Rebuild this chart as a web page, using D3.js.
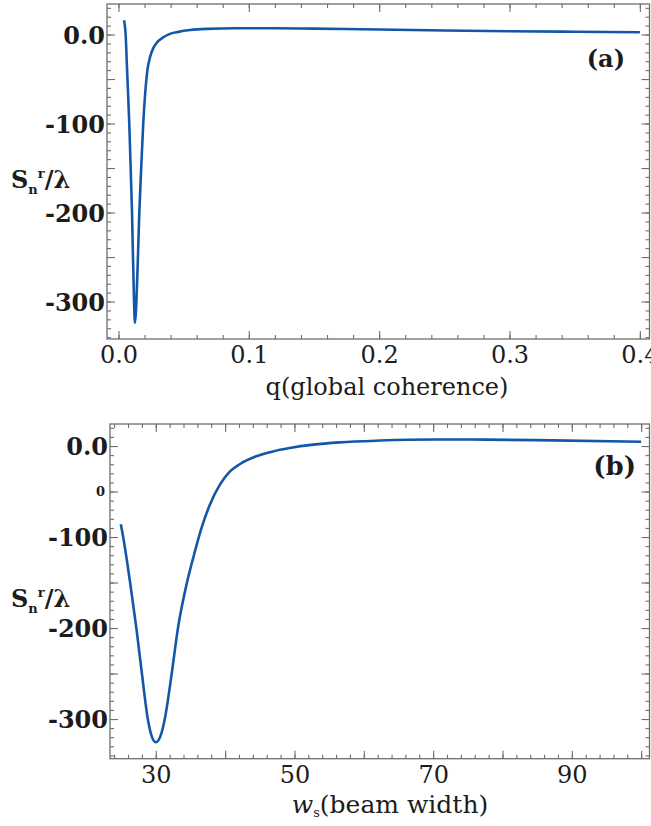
<!DOCTYPE html>
<html>
<head>
<meta charset="utf-8">
<script src="https://cdn.jsdelivr.net/npm/d3@7"></script>
<style>
  body { margin: 0; background: #fff; }
</style>
</head>
<body>
<svg id="chart" width="651" height="826"></svg>
<script>
// panel (a): S_n^r / lambda against the global coherence q
const qValues = [0.0042, 0.0055, 0.0065, 0.0083, 0.0104, 0.0119, 0.01265, 0.0147, 0.016, 0.0175,
  0.019, 0.0205, 0.0222, 0.0245, 0.0268, 0.0295, 0.034, 0.039, 0.046, 0.055, 0.068, 0.09, 0.12,
  0.15, 0.2, 0.25, 0.3, 0.35, 0.4];
const snByQ = [16, 0, -36, -100, -200, -298, -324, -261, -200, -148,
  -100, -66, -40, -24, -15, -9, -3.5, 0.5, 3, 5, 6.3, 7, 7,
  6.6, 5.6, 4.6, 3.7, 3.1, 2.5];

// panel (b): S_n^r / lambda against the beam width w_s
const wValues = [24.96, 25.3, 26.3, 27.2, 28.0, 28.85, 29.3, 30, 30.8, 31.3, 32.3, 33.2, 34.5,
  35.5, 36.6, 37.8, 39.25, 40.7, 42.1, 44.5, 46.9, 49.3, 52.7, 56.5, 62.3, 70, 77.6, 87.2, 100];
const snByW = [-86, -100, -150, -200, -250, -300, -316, -325.6, -316, -300, -250, -200, -150,
  -120, -90, -64.5, -42.5, -27.8, -20, -11.3, -5.9, -2.2, 1.5, 4, 6, 7.2, 7, 6.2, 4.7];

const qTicks = [0, 0.1, 0.2, 0.3, 0.4];
const qTickLabels = ['0.0', '0.1', '0.2', '0.3', '0.4'];
const wTicks = [30, 40, 50, 60, 70, 80, 90, 100];
const wTickLabels = { 30: '30', 50: '50', 70: '70', 90: '90' };
const snTicks = [0, -50, -100, -150, -200, -250, -300];
const snTickLabels = { 0: '0.0', '-100': '-100', '-200': '-200', '-300': '-300' };

const serif = "'DejaVu Serif', 'Liberation Serif', 'Times New Roman', serif";
const lineColor = '#1358a8';
const frameColor = '#6e6e6e';
const textColor = '#1c1c1c';

const svg = d3.select('#chart');

const styleText = (sel, size, weight) =>
  sel.style('font-family', serif)
    .style('font-size', `${size}px`)
    .style('font-weight', weight || 'normal')
    .style('fill', textColor);

const drawPanel = ({ id, box, xDomain, yDomain, xs, ys, xMajor, xMinorStep, xFormat, yMinorStep }) => {
  const x = d3.scaleLinear().domain(xDomain).range([box.left, box.right]);
  const y = d3.scaleLinear().domain(yDomain).range([box.bottom, box.top]);
  const g = svg.append('g');

  const xMinor = d3.range(Math.ceil(xDomain[0] / xMinorStep) * xMinorStep, xDomain[1], xMinorStep);
  const yMinor = d3.range(Math.ceil(yDomain[0] / yMinorStep) * yMinorStep, yDomain[1], yMinorStep);

  const addAxis = (axis, transform, values, size, format) => {
    const a = g.append('g')
      .attr('transform', transform)
      .call(axis.tickValues(values).tickSize(-size).tickSizeOuter(0).tickFormat(format || ''));
    a.select('.domain').remove();
    a.selectAll('line').attr('stroke', frameColor).attr('stroke-width', 1.1);
    return a;
  };

  // minor ticks on all four sides, pointing inward
  addAxis(d3.axisBottom(x), `translate(0,${box.bottom})`, xMinor, 4);
  addAxis(d3.axisTop(x), `translate(0,${box.top})`, xMinor, 4);
  addAxis(d3.axisLeft(y), `translate(${box.left},0)`, yMinor, 4);
  addAxis(d3.axisRight(y), `translate(${box.right},0)`, yMinor, 4);

  // major ticks
  const bottom = addAxis(d3.axisBottom(x), `translate(0,${box.bottom})`, xMajor, 8, xFormat);
  styleText(bottom.selectAll('text').attr('y', 24).attr('dy', null), 24);
  addAxis(d3.axisTop(x), `translate(0,${box.top})`, xMajor, 8);
  const left = addAxis(d3.axisLeft(y), `translate(${box.left},0)`, snTicks, 8,
    (d) => snTickLabels[d] || '');
  styleText(left.selectAll('text').attr('x', -2).attr('dy', '0.36em'), 24, 'bold');
  addAxis(d3.axisRight(y), `translate(${box.right},0)`, snTicks, 8);

  g.append('rect')
    .attr('x', box.left).attr('y', box.top)
    .attr('width', box.right - box.left).attr('height', box.bottom - box.top)
    .attr('fill', 'none').attr('stroke', frameColor).attr('stroke-width', 1.3);

  g.append('clipPath').attr('id', `clip-${id}`)
    .append('rect')
    .attr('x', box.left).attr('y', box.top)
    .attr('width', box.right - box.left).attr('height', box.bottom - box.top);

  const line = d3.line()
    .x((d) => x(d[0]))
    .y((d) => y(d[1]))
    .curve(d3.curveMonotoneX);

  g.append('path')
    .datum(d3.zip(xs, ys))
    .attr('clip-path', `url(#clip-${id})`)
    .attr('d', line)
    .attr('fill', 'none')
    .attr('stroke', lineColor)
    .attr('stroke-width', 2.6)
    .attr('stroke-linejoin', 'round');

  // S_n^r / lambda
  const yLabel = styleText(g.append('text').attr('x', 11).attr('y', box.labelY), 24, 'bold');
  yLabel.append('tspan').text('S');
  yLabel.append('tspan').attr('dy', 6).style('font-size', '13px').text('n');
  yLabel.append('tspan').attr('dy', -16).style('font-size', '13px').text('r');
  yLabel.append('tspan').attr('dy', 10).text('/λ');

  return { x, y, g };
};

const panelA = drawPanel({
  id: 'a',
  box: { left: 107, right: 649.5, top: 4, bottom: 339, labelY: 188 },
  xDomain: [-0.0088, 0.4074],
  yDomain: [-342.1, 34.3],
  xs: qValues,
  ys: snByQ,
  xMajor: qTicks,
  xMinorStep: 0.02,
  xFormat: (d, i) => qTickLabels[i],
  yMinorStep: 10,
});

styleText(panelA.g.append('text')
  .attr('x', 387).attr('y', 395)
  .attr('text-anchor', 'middle'), 24)
  .text('q(global coherence)');

styleText(panelA.g.append('text')
  .attr('x', 625).attr('y', 67)
  .attr('text-anchor', 'end'), 24, 'bold')
  .text('(a)');

const panelB = drawPanel({
  id: 'b',
  box: { left: 110, right: 649.5, top: 424, bottom: 758.7, labelY: 607 },
  xDomain: [23.4, 101.2],
  yDomain: [-343.6, 24.2],
  xs: wValues,
  ys: snByW,
  xMajor: wTicks,
  xMinorStep: 2,
  xFormat: (d) => wTickLabels[d] || '',
  yMinorStep: 10,
});

// stray tick label left over at -50 on panel (b)
styleText(panelB.g.append('text')
  .attr('x', 105).attr('y', panelB.y(-50))
  .attr('dy', '0.35em')
  .attr('text-anchor', 'end'), 13, 'bold')
  .text('0');

const wLabel = styleText(panelB.g.append('text')
  .attr('x', 390).attr('y', 813)
  .attr('text-anchor', 'middle'), 25);
wLabel.append('tspan').style('font-style', 'italic').text('w');
wLabel.append('tspan').attr('dy', 4).style('font-size', '13px').text('s');
wLabel.append('tspan').attr('dy', -4).text('(beam width)');

styleText(panelB.g.append('text')
  .attr('x', 636).attr('y', 475)
  .attr('text-anchor', 'end'), 26, 'bold')
  .text('(b)');
</script>
</body>
</html>
